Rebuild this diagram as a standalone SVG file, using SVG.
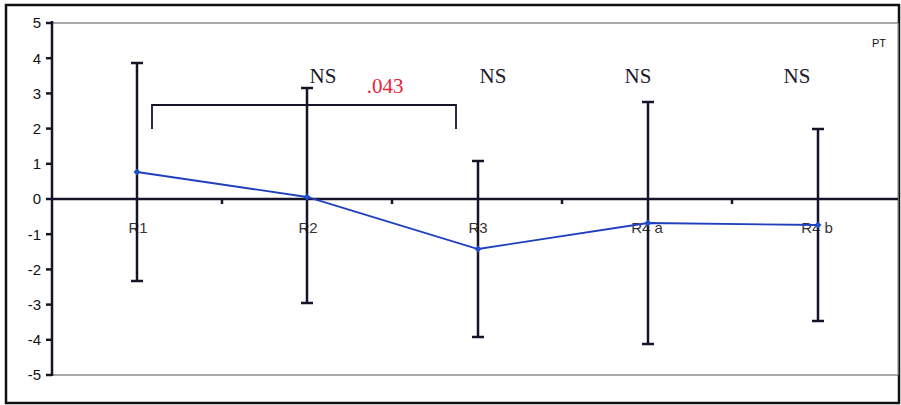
<svg xmlns="http://www.w3.org/2000/svg" width="901" height="405" viewBox="0 0 901 405">
<style>
.tick{font-family:"Liberation Sans",Arial,sans-serif;font-size:15px;fill:#111;text-anchor:end}
.cat{font-family:"Liberation Sans",Arial,sans-serif;font-size:15px;fill:#333;text-anchor:middle}
.ns{font-family:"Liberation Serif","Times New Roman",serif;font-size:21px;fill:#1a1a2e;text-anchor:middle}
.sig{font-family:"Liberation Serif","Times New Roman",serif;font-size:21px;fill:#e8243c;text-anchor:middle}
.bar{stroke:#15152a;stroke-width:2.5;fill:none}
.axis{stroke:#15152a;stroke-width:2.5;fill:none}
</style>
<defs>
<marker id="dia" viewBox="-4 -4 8 8" markerWidth="8" markerHeight="8" refX="0" refY="0" markerUnits="userSpaceOnUse">
<path d="M0,-3.5 L3.5,0 L0,3.5 L-3.5,0 Z" fill="#1f4fc8"/>
</marker>
</defs>
<rect width="901" height="405" fill="#fff"/>
<rect x="6" y="5" width="893" height="398" fill="none" stroke="#111" stroke-width="2.5"/>
<g id="plotarea">
<line x1="52" y1="23" x2="898" y2="23" stroke="#555" stroke-width="1.2"/>
<line x1="52" y1="375" x2="898" y2="375" stroke="#555" stroke-width="1.2"/>
<line x1="898" y1="23" x2="898" y2="375" stroke="#bbb" stroke-width="1"/>
</g>
<g id="axes">
<line class="axis" x1="52" y1="21" x2="52" y2="376"/>
<line class="axis" x1="52" y1="199" x2="898" y2="199"/>
<g stroke="#15152a" stroke-width="2.5">
<line x1="46" y1="23" x2="52" y2="23"/><line x1="46" y1="58.2" x2="52" y2="58.2"/><line x1="46" y1="93.4" x2="52" y2="93.4"/><line x1="46" y1="128.6" x2="52" y2="128.6"/><line x1="46" y1="163.8" x2="52" y2="163.8"/><line x1="46" y1="199" x2="52" y2="199"/><line x1="46" y1="234.2" x2="52" y2="234.2"/><line x1="46" y1="269.4" x2="52" y2="269.4"/><line x1="46" y1="304.6" x2="52" y2="304.6"/><line x1="46" y1="339.8" x2="52" y2="339.8"/><line x1="46" y1="375" x2="52" y2="375"/>
<line x1="222" y1="199" x2="222" y2="204"/><line x1="392" y1="199" x2="392" y2="204"/><line x1="562" y1="199" x2="562" y2="204"/><line x1="732" y1="199" x2="732" y2="204"/>
</g>
<text class="tick" x="41" y="28">5</text>
<text class="tick" x="41" y="64">4</text>
<text class="tick" x="41" y="99">3</text>
<text class="tick" x="41" y="134">2</text>
<text class="tick" x="41" y="169">1</text>
<text class="tick" x="41" y="204">0</text>
<text class="tick" x="41" y="240">-1</text>
<text class="tick" x="41" y="275">-2</text>
<text class="tick" x="41" y="310">-3</text>
<text class="tick" x="41" y="345">-4</text>
<text class="tick" x="41" y="380">-5</text>
</g>
<g id="categories">
<text class="cat" x="138" y="233">R1</text>
<text class="cat" x="308" y="233">R2</text>
<text class="cat" x="478" y="233">R3</text>
<text class="cat" x="647" y="233">R4 a</text>
<text class="cat" x="817" y="233">R4 b</text>
</g>
<g id="errorbars">
<path class="bar" d="M137,63 V281 M131,63 H143 M131,281 H143"/>
<path class="bar" d="M307,88 V303 M301,88 H313 M301,303 H313"/>
<path class="bar" d="M478,161 V337 M472,161 H484 M472,337 H484"/>
<path class="bar" d="M648,102 V344 M642,102 H654 M642,344 H654"/>
<path class="bar" d="M818,129 V321 M812,129 H824 M812,321 H824"/>
</g>
<g id="connectors">
<polyline points="137,172 307,197 478,249 648,223 818,225" fill="none" stroke="#1f3fbf" stroke-width="1.8" marker-start="url(#dia)" marker-mid="url(#dia)" marker-end="url(#dia)"/>
<path d="M152,129 V105 H456 V129" fill="none" stroke="#15152a" stroke-width="1.8"/>
</g>
<g id="labels">
<text class="ns" x="323" y="83">NS</text>
<text class="sig" x="385" y="93">.043</text>
<text class="ns" x="493" y="83">NS</text>
<text class="ns" x="638" y="83">NS</text>
<text class="ns" x="797" y="83">NS</text>
<text x="879" y="47" font-family="Liberation Sans,Arial,sans-serif" font-size="11" fill="#111" text-anchor="middle">PT</text>
</g>
</svg>
